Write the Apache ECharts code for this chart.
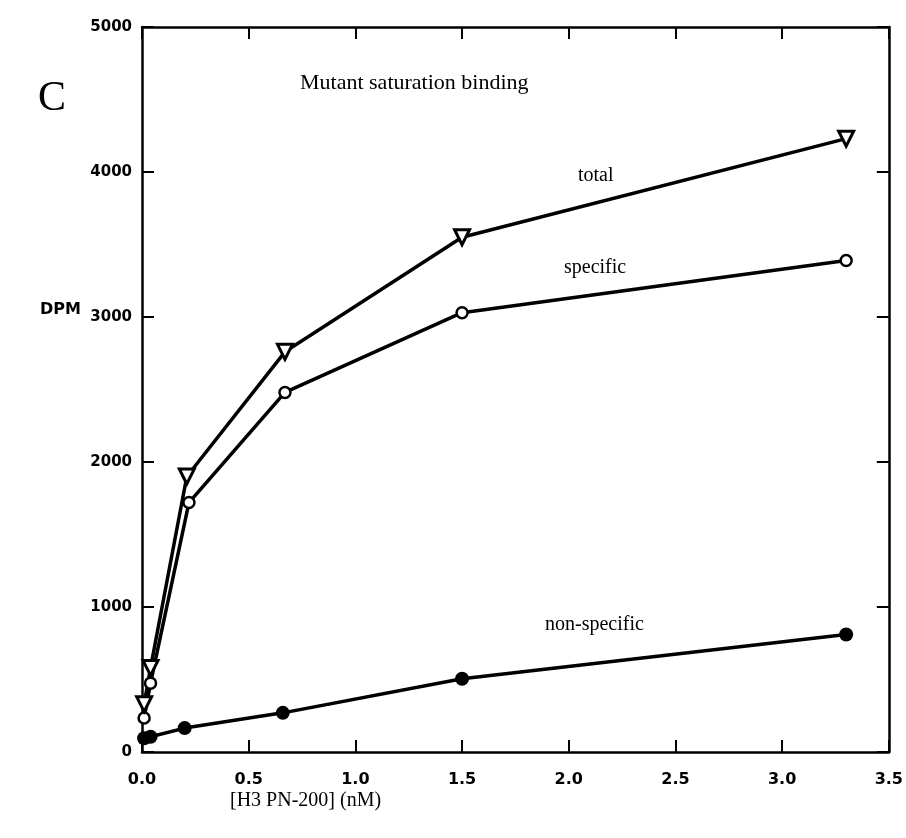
<!DOCTYPE html>
<html>
<head>
<meta charset="utf-8">
<script src="https://cdn.jsdelivr.net/npm/echarts@6/dist/echarts.min.js"></script>
<style>
  html, body { margin: 0; padding: 0; background: #fff; }
  #chart { width: 906px; height: 838px; }
</style>
</head>
<body>
<div id="chart"></div>
<script>
// concentration [H3 PN-200] (nM) and DPM
var totalX = [0.01, 0.04, 0.21, 0.67, 1.5, 3.3];
var totalY = [330, 580, 1900, 2760, 3550, 4230];
var specificX = [0.01, 0.04, 0.22, 0.67, 1.5, 3.3];
var specificY = [235, 475, 1720, 2480, 3030, 3390];
var nonspecX = [0.01, 0.04, 0.2, 0.66, 1.5, 3.3];
var nonspecY = [95, 105, 165, 270, 505, 810];
var xTicks = [0, 0.5, 1, 1.5, 2, 2.5, 3, 3.5];
var yTicks = [0, 1000, 2000, 3000, 4000, 5000];

function pairs (xs, ys) {
  return xs.map(function (x, i) { return [x, ys[i]] })
}

var tickFont = { fontFamily: 'DejaVu Sans', fontSize: 15, fontWeight: 'bold', color: '#000' }
var serif = 'Liberation Serif'
var frameLine = { onZero: false, lineStyle: { color: '#000', width: 2.5 } }
var frameTick = { show: true, inside: true, length: 12, lineStyle: { color: '#000', width: 2 } }

var chart = echarts.init(document.getElementById('chart'))
chart.setOption({
  animation: false,
  backgroundColor: '#fff',
  grid: { left: 142, right: 13, top: 27, bottom: 86 },
  xAxis: [
    {
      type: 'value', min: xTicks[0], max: xTicks[xTicks.length - 1], interval: 0.5,
      axisLine: frameLine, axisTick: frameTick,
      splitLine: { show: false },
      axisLabel: Object.assign({}, tickFont, { fontSize: 16, margin: 20, formatter: function (v) { return v.toFixed(1) } })
    },
    {
      type: 'value', position: 'top', min: xTicks[0], max: xTicks[xTicks.length - 1], interval: 0.5,
      axisLine: frameLine, axisTick: frameTick,
      splitLine: { show: false },
      axisLabel: { show: false }
    }
  ],
  yAxis: [
    {
      type: 'value', min: yTicks[0], max: yTicks[yTicks.length - 1], interval: 1000,
      axisLine: Object.assign({ show: true }, frameLine), axisTick: frameTick,
      splitLine: { show: false },
      axisLabel: Object.assign({ margin: 10, formatter: function (v) { return String(v) } }, tickFont)
    },
    {
      type: 'value', position: 'right', min: yTicks[0], max: yTicks[yTicks.length - 1], interval: 1000,
      axisLine: Object.assign({ show: true }, frameLine), axisTick: frameTick,
      splitLine: { show: false },
      axisLabel: { show: false }
    }
  ],
  series: [
    {
      name: 'non-specific', type: 'line', data: pairs(nonspecX, nonspecY),
      symbol: 'circle', symbolSize: 14,
      lineStyle: { color: '#000', width: 3.5 },
      itemStyle: { color: '#000', borderColor: '#000', borderWidth: 0 }
    },
    {
      name: 'specific', type: 'line', data: pairs(specificX, specificY),
      symbol: 'circle', symbolSize: 11,
      lineStyle: { color: '#000', width: 3.5 },
      itemStyle: { color: '#fff', borderColor: '#000', borderWidth: 2.5 }
    },
    {
      name: 'total', type: 'line', data: pairs(totalX, totalY),
      symbol: 'triangle', symbolRotate: 180, symbolSize: 15,
      lineStyle: { color: '#000', width: 3.5 },
      itemStyle: { color: '#fff', borderColor: '#000', borderWidth: 3 }
    }
  ],
  graphic: [
    { type: 'text', left: 38, top: 78, style: { text: 'C', font: '42px ' + serif, fill: '#000' } },
    { type: 'text', left: 300, top: 72, style: { text: 'Mutant saturation binding', font: '22px ' + serif, fill: '#000' } },
    { type: 'text', left: 578, top: 166, style: { text: 'total', font: '20px ' + serif, fill: '#000' } },
    { type: 'text', left: 564, top: 258, style: { text: 'specific', font: '20px ' + serif, fill: '#000' } },
    { type: 'text', left: 545, top: 615, style: { text: 'non-specific', font: '20px ' + serif, fill: '#000' } },
    { type: 'text', left: 40, top: 302, style: { text: 'DPM', font: 'bold 16px DejaVu Sans', fill: '#000' } },
    { type: 'text', left: 230, top: 791, style: { text: '[H3 PN-200] (nM)', font: '20px ' + serif, fill: '#000' } }
  ]
})
</script>
</body>
</html>
